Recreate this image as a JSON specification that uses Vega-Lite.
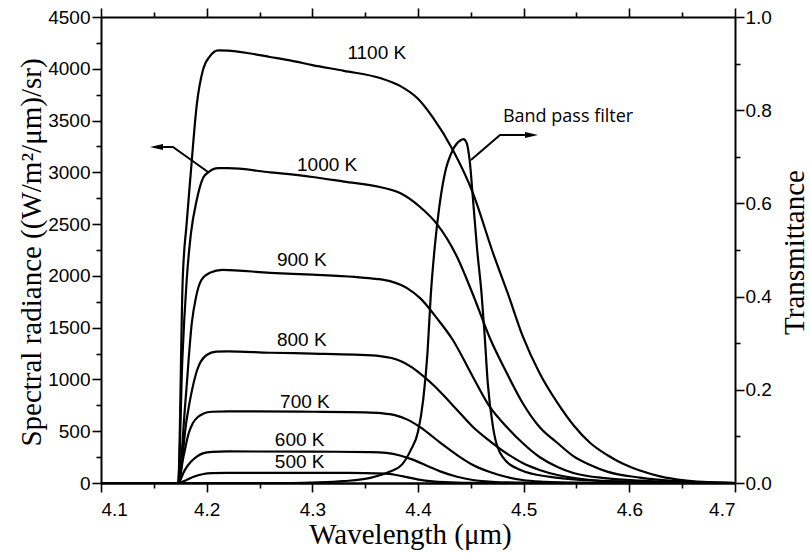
{
  "$schema": "https://vega.github.io/schema/vega-lite/v6.json",
  "width": 634,
  "height": 466,
  "autosize": "none",
  "padding": {"left": 101, "top": 17, "right": 75, "bottom": 70},
  "background": "white",
  "config": {
    "view": {"stroke": null},
    "axis": {
      "grid": false,
      "domainColor": "black",
      "domainWidth": 2,
      "ticks": true,
      "tickColor": "black",
      "tickOpacity": 1,
      "tickWidth": 1.6,
      "labelFont": "Liberation Sans",
      "labelFontSize": 19,
      "labelColor": "black",
      "titleFont": "Liberation Serif",
      "titleFontSize": 29,
      "titleFontWeight": "normal",
      "titleColor": "black"
    }
  },
  "datasets": {
    "radiance": [
      {"T": "1100 K", "wl": 4.1, "L": 0}, {"T": "1100 K", "wl": 4.173, "L": 0}, {"T": "1100 K", "wl": 4.1773, "L": 1960}, {"T": "1100 K", "wl": 4.181, "L": 2500}, {"T": "1100 K", "wl": 4.185, "L": 3000}, {"T": "1100 K", "wl": 4.1906, "L": 3650}, {"T": "1100 K", "wl": 4.1968, "L": 4000}, {"T": "1100 K", "wl": 4.203, "L": 4120}, {"T": "1100 K", "wl": 4.211, "L": 4178}, {"T": "1100 K", "wl": 4.22, "L": 4175}, {"T": "1100 K", "wl": 4.24, "L": 4150}, {"T": "1100 K", "wl": 4.26, "L": 4114}, {"T": "1100 K", "wl": 4.28, "L": 4078}, {"T": "1100 K", "wl": 4.3, "L": 4036}, {"T": "1100 K", "wl": 4.33, "L": 3980}, {"T": "1100 K", "wl": 4.364, "L": 3911}, {"T": "1100 K", "wl": 4.383, "L": 3835}, {"T": "1100 K", "wl": 4.4, "L": 3710}, {"T": "1100 K", "wl": 4.414, "L": 3530}, {"T": "1100 K", "wl": 4.433, "L": 3216}, {"T": "1100 K", "wl": 4.452, "L": 2800}, {"T": "1100 K", "wl": 4.471, "L": 2221}, {"T": "1100 K", "wl": 4.485, "L": 1830}, {"T": "1100 K", "wl": 4.499, "L": 1420}, {"T": "1100 K", "wl": 4.515, "L": 1062}, {"T": "1100 K", "wl": 4.532, "L": 773}, {"T": "1100 K", "wl": 4.547, "L": 560}, {"T": "1100 K", "wl": 4.563, "L": 386}, {"T": "1100 K", "wl": 4.579, "L": 270}, {"T": "1100 K", "wl": 4.594, "L": 185}, {"T": "1100 K", "wl": 4.61, "L": 120}, {"T": "1100 K", "wl": 4.63, "L": 62}, {"T": "1100 K", "wl": 4.65, "L": 28}, {"T": "1100 K", "wl": 4.67, "L": 10}, {"T": "1100 K", "wl": 4.69, "L": 2}, {"T": "1100 K", "wl": 4.7, "L": 0},

      {"T": "1000 K", "wl": 4.1, "L": 0}, {"T": "1000 K", "wl": 4.173, "L": 0}, {"T": "1000 K", "wl": 4.177, "L": 1200}, {"T": "1000 K", "wl": 4.1811, "L": 1960}, {"T": "1000 K", "wl": 4.185, "L": 2400}, {"T": "1000 K", "wl": 4.1906, "L": 2733}, {"T": "1000 K", "wl": 4.1968, "L": 2950}, {"T": "1000 K", "wl": 4.2015, "L": 3000}, {"T": "1000 K", "wl": 4.211, "L": 3040}, {"T": "1000 K", "wl": 4.22, "L": 3040}, {"T": "1000 K", "wl": 4.26, "L": 3000}, {"T": "1000 K", "wl": 4.3, "L": 2955}, {"T": "1000 K", "wl": 4.33, "L": 2910}, {"T": "1000 K", "wl": 4.364, "L": 2858}, {"T": "1000 K", "wl": 4.383, "L": 2800}, {"T": "1000 K", "wl": 4.402, "L": 2665}, {"T": "1000 K", "wl": 4.418, "L": 2500}, {"T": "1000 K", "wl": 4.437, "L": 2183}, {"T": "1000 K", "wl": 4.452, "L": 1820}, {"T": "1000 K", "wl": 4.468, "L": 1400}, {"T": "1000 K", "wl": 4.484, "L": 1062}, {"T": "1000 K", "wl": 4.499, "L": 773}, {"T": "1000 K", "wl": 4.515, "L": 541}, {"T": "1000 K", "wl": 4.532, "L": 386}, {"T": "1000 K", "wl": 4.547, "L": 260}, {"T": "1000 K", "wl": 4.563, "L": 174}, {"T": "1000 K", "wl": 4.579, "L": 110}, {"T": "1000 K", "wl": 4.61, "L": 52}, {"T": "1000 K", "wl": 4.64, "L": 20}, {"T": "1000 K", "wl": 4.67, "L": 6}, {"T": "1000 K", "wl": 4.7, "L": 0},

      {"T": "900 K", "wl": 4.1, "L": 0}, {"T": "900 K", "wl": 4.173, "L": 0}, {"T": "900 K", "wl": 4.18, "L": 800}, {"T": "900 K", "wl": 4.186, "L": 1550}, {"T": "900 K", "wl": 4.19, "L": 1800}, {"T": "900 K", "wl": 4.195, "L": 1960}, {"T": "900 K", "wl": 4.203, "L": 2030}, {"T": "900 K", "wl": 4.215, "L": 2058}, {"T": "900 K", "wl": 4.26, "L": 2030}, {"T": "900 K", "wl": 4.3, "L": 2012}, {"T": "900 K", "wl": 4.34, "L": 1990}, {"T": "900 K", "wl": 4.36, "L": 1972}, {"T": "900 K", "wl": 4.375, "L": 1945}, {"T": "900 K", "wl": 4.39, "L": 1880}, {"T": "900 K", "wl": 4.402, "L": 1785}, {"T": "900 K", "wl": 4.418, "L": 1590}, {"T": "900 K", "wl": 4.433, "L": 1381}, {"T": "900 K", "wl": 4.452, "L": 1024}, {"T": "900 K", "wl": 4.468, "L": 734}, {"T": "900 K", "wl": 4.484, "L": 541}, {"T": "900 K", "wl": 4.499, "L": 386}, {"T": "900 K", "wl": 4.515, "L": 251}, {"T": "900 K", "wl": 4.532, "L": 155}, {"T": "900 K", "wl": 4.547, "L": 97}, {"T": "900 K", "wl": 4.579, "L": 45}, {"T": "900 K", "wl": 4.61, "L": 22}, {"T": "900 K", "wl": 4.65, "L": 6}, {"T": "900 K", "wl": 4.7, "L": 0},

      {"T": "800 K", "wl": 4.1, "L": 0}, {"T": "800 K", "wl": 4.173, "L": 0}, {"T": "800 K", "wl": 4.181, "L": 608}, {"T": "800 K", "wl": 4.191, "L": 1091}, {"T": "800 K", "wl": 4.2, "L": 1236}, {"T": "800 K", "wl": 4.209, "L": 1268}, {"T": "800 K", "wl": 4.22, "L": 1272}, {"T": "800 K", "wl": 4.26, "L": 1258}, {"T": "800 K", "wl": 4.3, "L": 1250}, {"T": "800 K", "wl": 4.34, "L": 1240}, {"T": "800 K", "wl": 4.364, "L": 1226}, {"T": "800 K", "wl": 4.375, "L": 1207}, {"T": "800 K", "wl": 4.385, "L": 1172}, {"T": "800 K", "wl": 4.395, "L": 1112}, {"T": "800 K", "wl": 4.405, "L": 1032}, {"T": "800 K", "wl": 4.415, "L": 942}, {"T": "800 K", "wl": 4.425, "L": 838}, {"T": "800 K", "wl": 4.437, "L": 705}, {"T": "800 K", "wl": 4.452, "L": 541}, {"T": "800 K", "wl": 4.468, "L": 405}, {"T": "800 K", "wl": 4.484, "L": 285}, {"T": "800 K", "wl": 4.499, "L": 193}, {"T": "800 K", "wl": 4.515, "L": 126}, {"T": "800 K", "wl": 4.532, "L": 77}, {"T": "800 K", "wl": 4.563, "L": 29}, {"T": "800 K", "wl": 4.6, "L": 8}, {"T": "800 K", "wl": 4.65, "L": 1}, {"T": "800 K", "wl": 4.7, "L": 0},

      {"T": "700 K", "wl": 4.1, "L": 0}, {"T": "700 K", "wl": 4.173, "L": 0}, {"T": "700 K", "wl": 4.178, "L": 250}, {"T": "700 K", "wl": 4.183, "L": 480}, {"T": "700 K", "wl": 4.187, "L": 579}, {"T": "700 K", "wl": 4.192, "L": 640}, {"T": "700 K", "wl": 4.197, "L": 670}, {"T": "700 K", "wl": 4.205, "L": 688}, {"T": "700 K", "wl": 4.22, "L": 692}, {"T": "700 K", "wl": 4.3, "L": 688}, {"T": "700 K", "wl": 4.35, "L": 682}, {"T": "700 K", "wl": 4.365, "L": 674}, {"T": "700 K", "wl": 4.378, "L": 655}, {"T": "700 K", "wl": 4.39, "L": 612}, {"T": "700 K", "wl": 4.402, "L": 540}, {"T": "700 K", "wl": 4.421, "L": 390}, {"T": "700 K", "wl": 4.437, "L": 270}, {"T": "700 K", "wl": 4.452, "L": 174}, {"T": "700 K", "wl": 4.468, "L": 106}, {"T": "700 K", "wl": 4.484, "L": 58}, {"T": "700 K", "wl": 4.499, "L": 29}, {"T": "700 K", "wl": 4.52, "L": 12}, {"T": "700 K", "wl": 4.55, "L": 3}, {"T": "700 K", "wl": 4.6, "L": 0}, {"T": "700 K", "wl": 4.7, "L": 0},

      {"T": "600 K", "wl": 4.1, "L": 0}, {"T": "600 K", "wl": 4.173, "L": 0}, {"T": "600 K", "wl": 4.179, "L": 120}, {"T": "600 K", "wl": 4.184, "L": 193}, {"T": "600 K", "wl": 4.19, "L": 250}, {"T": "600 K", "wl": 4.197, "L": 288}, {"T": "600 K", "wl": 4.205, "L": 300}, {"T": "600 K", "wl": 4.22, "L": 305}, {"T": "600 K", "wl": 4.3, "L": 303}, {"T": "600 K", "wl": 4.355, "L": 298}, {"T": "600 K", "wl": 4.37, "L": 290}, {"T": "600 K", "wl": 4.383, "L": 266}, {"T": "600 K", "wl": 4.395, "L": 226}, {"T": "600 K", "wl": 4.41, "L": 160}, {"T": "600 K", "wl": 4.421, "L": 112}, {"T": "600 K", "wl": 4.437, "L": 60}, {"T": "600 K", "wl": 4.452, "L": 29}, {"T": "600 K", "wl": 4.47, "L": 12}, {"T": "600 K", "wl": 4.5, "L": 3}, {"T": "600 K", "wl": 4.55, "L": 0}, {"T": "600 K", "wl": 4.7, "L": 0},

      {"T": "500 K", "wl": 4.1, "L": 0}, {"T": "500 K", "wl": 4.173, "L": 0}, {"T": "500 K", "wl": 4.18, "L": 25}, {"T": "500 K", "wl": 4.187, "L": 58}, {"T": "500 K", "wl": 4.197, "L": 87}, {"T": "500 K", "wl": 4.205, "L": 95}, {"T": "500 K", "wl": 4.22, "L": 98}, {"T": "500 K", "wl": 4.3, "L": 98}, {"T": "500 K", "wl": 4.35, "L": 96}, {"T": "500 K", "wl": 4.37, "L": 90}, {"T": "500 K", "wl": 4.386, "L": 64}, {"T": "500 K", "wl": 4.405, "L": 26}, {"T": "500 K", "wl": 4.425, "L": 8}, {"T": "500 K", "wl": 4.45, "L": 1}, {"T": "500 K", "wl": 4.48, "L": 0}, {"T": "500 K", "wl": 4.7, "L": 0}
    ],
    "filter": [
      {"wl": 4.1, "Tr": 0}, {"wl": 4.28, "Tr": 0}, {"wl": 4.3, "Tr": 0.001}, {"wl": 4.33, "Tr": 0.004}, {"wl": 4.355, "Tr": 0.011}, {"wl": 4.373, "Tr": 0.024}, {"wl": 4.385, "Tr": 0.04}, {"wl": 4.393, "Tr": 0.07}, {"wl": 4.4, "Tr": 0.11}, {"wl": 4.405, "Tr": 0.18}, {"wl": 4.409, "Tr": 0.28}, {"wl": 4.412, "Tr": 0.4}, {"wl": 4.416, "Tr": 0.51}, {"wl": 4.42, "Tr": 0.59}, {"wl": 4.425, "Tr": 0.66}, {"wl": 4.433, "Tr": 0.715}, {"wl": 4.44, "Tr": 0.735}, {"wl": 4.443, "Tr": 0.738}, {"wl": 4.446, "Tr": 0.73}, {"wl": 4.449, "Tr": 0.69}, {"wl": 4.452, "Tr": 0.61}, {"wl": 4.456, "Tr": 0.5}, {"wl": 4.46, "Tr": 0.41}, {"wl": 4.463, "Tr": 0.32}, {"wl": 4.466, "Tr": 0.215}, {"wl": 4.471, "Tr": 0.12}, {"wl": 4.48, "Tr": 0.056}, {"wl": 4.497, "Tr": 0.028}, {"wl": 4.525, "Tr": 0.013}, {"wl": 4.56, "Tr": 0.006}, {"wl": 4.6, "Tr": 0.003}, {"wl": 4.65, "Tr": 0.001}, {"wl": 4.7, "Tr": 0}
    ],
    "curveLabels": [
      {"wl": 4.361, "L": 4152, "text": "1100 K"},
      {"wl": 4.314, "L": 3071, "text": "1000 K"},
      {"wl": 4.29, "L": 2153, "text": "900 K"},
      {"wl": 4.29, "L": 1381, "text": "800 K"},
      {"wl": 4.293, "L": 782, "text": "700 K"},
      {"wl": 4.288, "L": 415, "text": "600 K"},
      {"wl": 4.288, "L": 203, "text": "500 K"}
    ],
    "filterLabel": [
      {"wl": 4.4804, "Tr": 0.785, "text": "Band pass filter"}
    ],
    "leaders": [
      {"id": "radiance", "ord": 0, "wl": 4.2013, "L": 3003},
      {"id": "radiance", "ord": 1, "wl": 4.1681, "L": 3245},
      {"id": "radiance", "ord": 2, "wl": 4.1588, "L": 3245},
      {"id": "filter", "ord": 0, "wl": 4.4501, "L": 3119},
      {"id": "filter", "ord": 1, "wl": 4.4776, "L": 3361},
      {"id": "filter", "ord": 2, "wl": 4.5012, "L": 3361}
    ],
    "headLeft": [{"wl": 4.1525, "L": 3245}],
    "headRight": [{"wl": 4.5074, "Tr": 0.7468}]
  },
  "layer": [
    {
      "data": {"name": "radiance"},
      "mark": {"type": "line", "color": "black", "strokeWidth": 2.2, "interpolate": "monotone"},
      "encoding": {
        "x": {
          "field": "wl", "type": "quantitative",
          "scale": {"domain": [4.1, 4.7], "nice": false, "zero": false},
          "axis": {
            "orient": "bottom",
            "values": [4.1, 4.2, 4.3, 4.4, 4.5, 4.6, 4.7],
            "format": ".1f",
            "tickSize": 9,
            "labelPadding": 8,
            "domainWidth": 2.5,
            "title": "Wavelength (μm)",
            "titleX": 309,
            "titleY": 60,
            "titleBaseline": "alphabetic",
            "titleAlign": "center"
          }
        },
        "y": {
          "field": "L", "type": "quantitative",
          "scale": {"domain": [0, 4500], "nice": false},
          "axis": {
            "orient": "left",
            "values": [0, 500, 1000, 1500, 2000, 2500, 3000, 3500, 4000, 4500],
            "format": "d",
            "tickSize": 9,
            "labelPadding": 2,
            "title": "Spectral radiance ((W/m²/μm)/sr)",
            "titleAngle": 270,
            "titleX": -61,
            "titleY": 235,
            "titleBaseline": "alphabetic",
            "titleAlign": "center"
          }
        },
        "detail": {"field": "T"}
      }
    },
    {
      "data": {"name": "leaders"},
      "mark": {"type": "line", "color": "black", "strokeWidth": 2},
      "encoding": {
        "x": {
          "field": "wl", "type": "quantitative",
          "scale": {"domain": [4.1, 4.7], "nice": false, "zero": false},
          "axis": {"orient": "bottom", "values": [4.15, 4.25, 4.35, 4.45, 4.55, 4.65], "tickSize": 5, "labels": false, "domain": false, "title": null}
        },
        "y": {
          "field": "L", "type": "quantitative",
          "scale": {"domain": [0, 4500], "nice": false},
          "axis": {"orient": "left", "values": [250, 750, 1250, 1750, 2250, 2750, 3250, 3750, 4250], "tickSize": 5, "labels": false, "domain": false, "title": null}
        },
        "detail": {"field": "id"},
        "order": {"field": "ord"}
      }
    },
    {
      "data": {"name": "headLeft"},
      "mark": {"type": "point", "shape": "M-1,0L1,-0.45L1,0.45Z", "size": 169, "filled": true, "color": "black", "opacity": 1, "strokeWidth": 0},
      "encoding": {
        "x": {
          "field": "wl", "type": "quantitative",
          "scale": {"domain": [4.1, 4.7], "nice": false, "zero": false},
          "axis": {"orient": "top", "values": [4.15, 4.25, 4.35, 4.45, 4.55, 4.65], "tickSize": 5, "labels": false, "domain": false, "title": null}
        },
        "y": {"field": "L", "type": "quantitative", "scale": {"domain": [0, 4500], "nice": false}, "axis": null}
      }
    },
    {
      "data": {"name": "headRight"},
      "mark": {"type": "point", "shape": "M1,0L-1,-0.45L-1,0.45Z", "size": 169, "filled": true, "color": "black", "opacity": 1, "strokeWidth": 0},
      "encoding": {
        "x": {
          "field": "wl", "type": "quantitative",
          "scale": {"domain": [4.1, 4.7], "nice": false, "zero": false},
          "axis": {"orient": "top", "values": [4.1, 4.2, 4.3, 4.4, 4.5, 4.6, 4.7], "tickSize": 9, "labels": false, "title": null}
        },
        "y": {"field": "Tr", "type": "quantitative", "scale": {"domain": [0, 1], "nice": false}, "axis": null}
      }
    },
    {
      "data": {"name": "curveLabels"},
      "mark": {"type": "text", "font": "Liberation Sans", "fontSize": 19, "color": "black", "align": "center", "baseline": "middle"},
      "encoding": {
        "x": {"field": "wl", "type": "quantitative", "scale": {"domain": [4.1, 4.7], "nice": false, "zero": false}, "axis": null},
        "y": {"field": "L", "type": "quantitative", "scale": {"domain": [0, 4500], "nice": false}, "axis": null},
        "text": {"field": "text"}
      }
    },
    {
      "data": {"name": "filter"},
      "mark": {"type": "line", "color": "black", "strokeWidth": 2.2, "interpolate": "monotone"},
      "encoding": {
        "x": {"field": "wl", "type": "quantitative", "scale": {"domain": [4.1, 4.7], "nice": false, "zero": false}, "axis": null},
        "y": {
          "field": "Tr", "type": "quantitative",
          "scale": {"domain": [0, 1], "nice": false},
          "axis": {
            "orient": "right",
            "values": [0, 0.2, 0.4, 0.6, 0.8, 1.0],
            "format": ".1f",
            "tickSize": 9,
            "labelPadding": 1,
            "title": "Transmittance",
            "titleAngle": 270,
            "titleX": 68,
            "titleY": 235,
            "titleBaseline": "alphabetic",
            "titleAlign": "center"
          }
        }
      }
    },
    {
      "data": {"name": "filterLabel"},
      "mark": {"type": "text", "font": "Open Sans", "fontSize": 18, "color": "black", "align": "left", "baseline": "middle"},
      "encoding": {
        "x": {"field": "wl", "type": "quantitative", "scale": {"domain": [4.1, 4.7], "nice": false, "zero": false}, "axis": null},
        "y": {
          "field": "Tr", "type": "quantitative",
          "scale": {"domain": [0, 1], "nice": false},
          "axis": {"orient": "right", "values": [0.1, 0.3, 0.5, 0.7, 0.9], "tickSize": 5, "labels": false, "domain": false, "title": null}
        },
        "text": {"field": "text"}
      }
    }
  ],
  "resolve": {"scale": {"y": "independent"}, "axis": {"x": "independent", "y": "independent"}}
}
